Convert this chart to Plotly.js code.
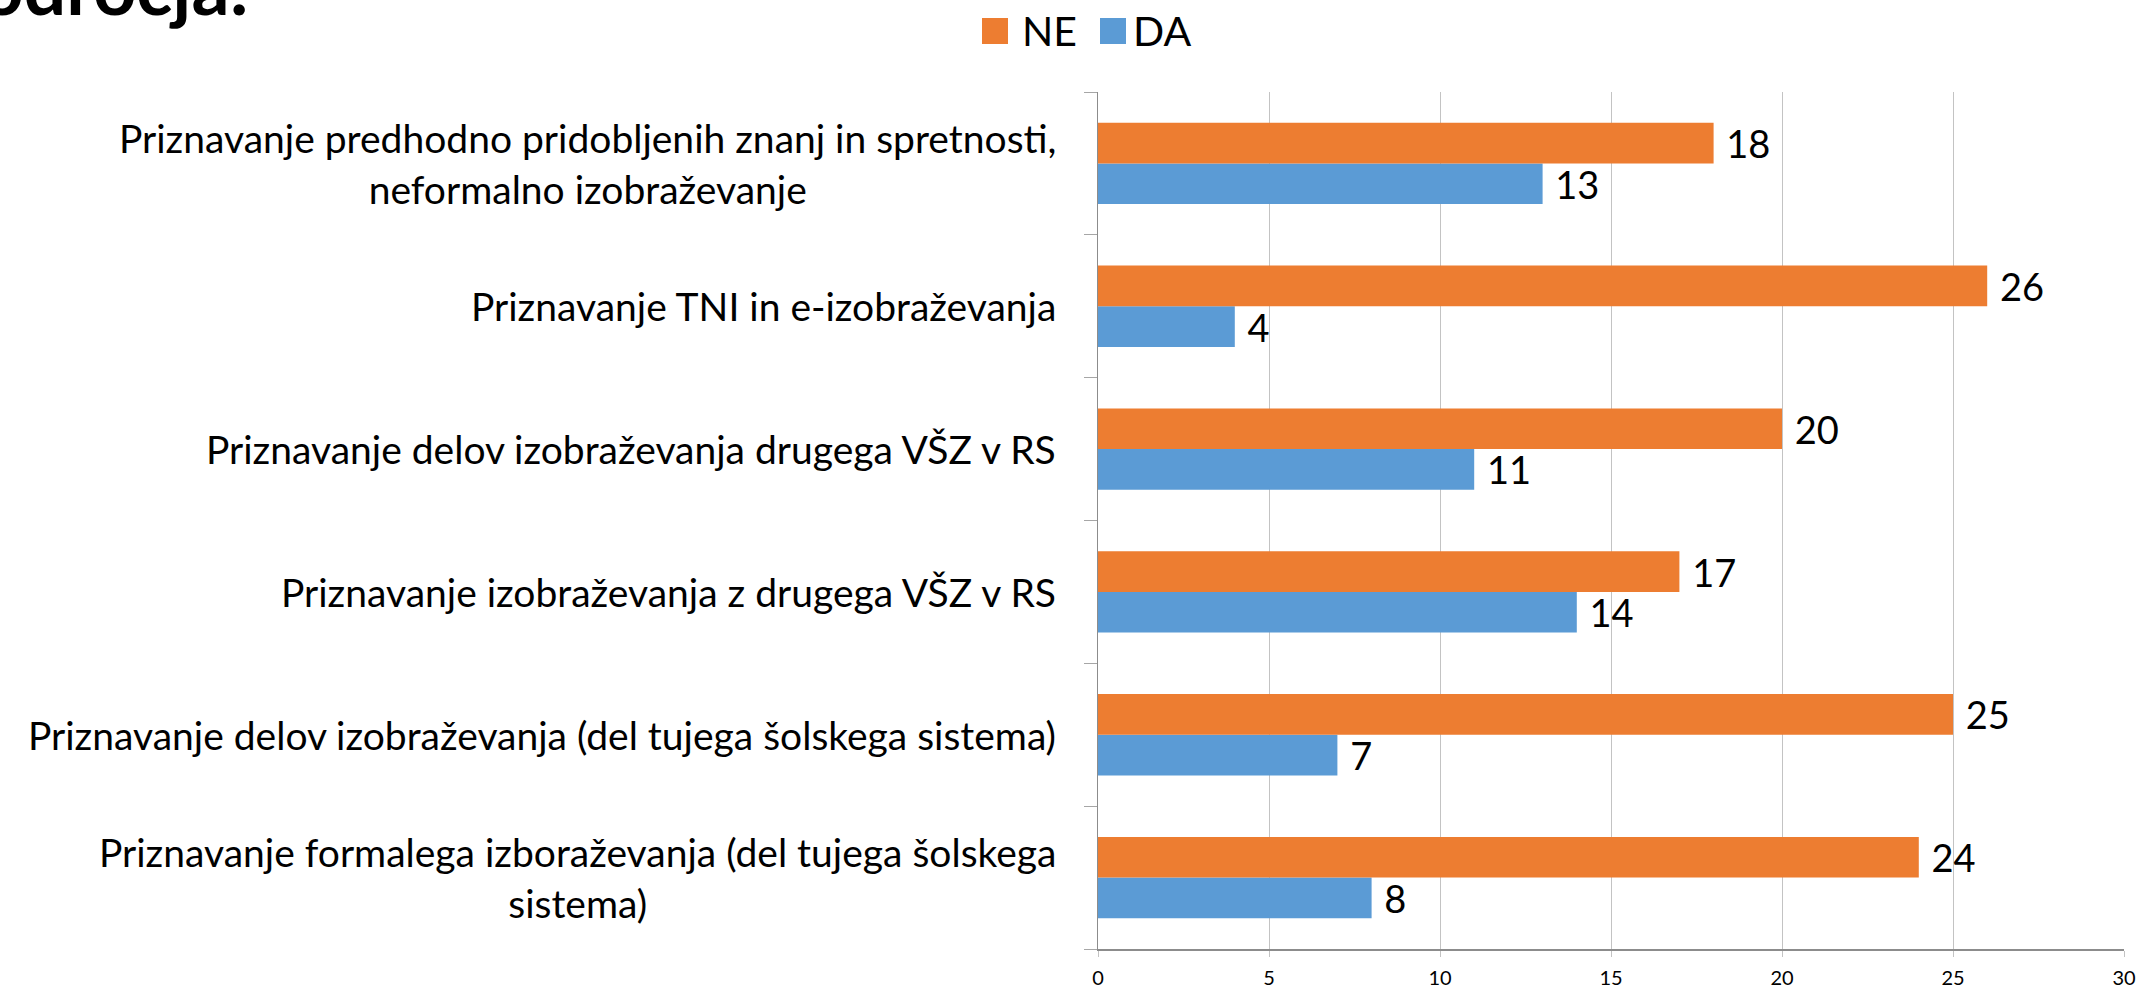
<!DOCTYPE html>
<html>
<head>
<meta charset="utf-8">
<script src="https://cdn.plot.ly/plotly-3.0.1.min.js"></script>
<style>html,body{margin:0;padding:0;background:#fff;}#chart{width:2140px;height:991px;}</style>
</head>
<body>
<div id="chart"></div>
<script>
// Categories, bottom to top (as drawn on the y axis)
const categories = [
  "Priznavanje formalega izboraževanja (del tujega šolskega<br>sistema)",
  "Priznavanje delov izobraževanja (del tujega šolskega sistema)",
  "Priznavanje izobraževanja z drugega VŠZ v RS",
  "Priznavanje delov izobraževanja drugega VŠZ v RS",
  "Priznavanje TNI in e-izobraževanja",
  "Priznavanje predhodno pridobljenih znanj in spretnosti,<br>neformalno izobraževanje"
];
const seriesNames = ["NE", "DA"];
const valuesNE = [24, 25, 17, 20, 26, 18];
const valuesDA = [8, 7, 14, 11, 4, 13];
const xTicks = [0, 5, 10, 15, 20, 25, 30];
const titleFragment = "področja:";

const FONT = "Lato, 'Open Sans', sans-serif";
const colNE = "#ED7D31";
const colDA = "#5B9BD5";

// plot-area geometry in pixels -> paper helper
const L = 1098, R = 2124, T = 92, B = 949;
const px = v => (v - L) / (R - L);
const py = v => (B - v) / (B - T);

const traces = [
  {
    type: "bar", orientation: "h", name: seriesNames[1],
    y: categories, x: valuesDA,
    marker: {color: colDA},
    text: valuesDA, texttemplate: "\u00a0%{x}", textposition: "outside",
    textfont: {family: FONT, size: 38, color: "#000"},
    constraintext: "none", cliponaxis: false, showlegend: false, hoverinfo: "x+y"
  },
  {
    type: "bar", orientation: "h", name: seriesNames[0],
    y: categories, x: valuesNE,
    marker: {color: colNE},
    text: valuesNE, texttemplate: "\u00a0%{x}", textposition: "outside",
    textfont: {family: FONT, size: 38, color: "#000"},
    constraintext: "none", cliponaxis: false, showlegend: false, hoverinfo: "x+y"
  }
];

const annotations = categories.map(c => ({
  xref: "paper", yref: "y", x: px(1058), y: c, xanchor: "right", yanchor: "middle",
  text: c, align: "center", showarrow: false,
  font: {family: FONT, size: 39, color: "#000"}
}));
// legend labels
annotations.push({xref: "paper", yref: "paper", x: px(1020), y: py(31), xanchor: "left", yanchor: "middle",
  text: seriesNames[0], showarrow: false, font: {family: FONT, size: 41, color: "#000"}});
annotations.push({xref: "paper", yref: "paper", x: px(1131), y: py(31), xanchor: "left", yanchor: "middle",
  text: seriesNames[1], showarrow: false, font: {family: FONT, size: 41, color: "#000"}});
// cut-off slide title fragment
annotations.push({xref: "paper", yref: "paper", x: px(251), y: py(33), xanchor: "right", yanchor: "bottom",
  text: "<b>" + titleFragment + "</b>", showarrow: false, font: {family: FONT, size: 75, color: "#000"}});

const shapes = [
  {type: "rect", xref: "paper", yref: "paper", x0: px(982), x1: px(1008), y0: py(44), y1: py(18),
   fillcolor: colNE, line: {width: 0}},
  {type: "rect", xref: "paper", yref: "paper", x0: px(1100), x1: px(1126), y0: py(44), y1: py(18),
   fillcolor: colDA, line: {width: 0}}
];

const layout = {
  width: 2140, height: 991, autosize: false,
  margin: {l: L, r: 2140 - R, t: T, b: 991 - B, pad: 0},
  paper_bgcolor: "#fff", plot_bgcolor: "#fff",
  barmode: "group", bargap: 0.43, bargroupgap: 0,
  showlegend: false,
  font: {family: FONT, color: "#000"},
  xaxis: {
    range: [0, 30], tickvals: xTicks, ticktext: xTicks.map(String),
    showgrid: true, gridcolor: "#c3c3c3", gridwidth: 1,
    showline: true, linecolor: "#8c8c8c", linewidth: 1.5,
    ticks: "outside", ticklen: 6, tickcolor: "#c3c3c3",
    tickfont: {family: FONT, size: 20, color: "#000"},
    ticklabelstandoff: 4,
    zeroline: false, fixedrange: true
  },
  yaxis: {
    type: "category", categoryorder: "array", categoryarray: categories,
    showticklabels: false, showgrid: false,
    showline: true, linecolor: "#8c8c8c", linewidth: 1.5,
    ticks: "outside", tickson: "boundaries", ticklen: 13, tickcolor: "#a6a6a6",
    zeroline: false, fixedrange: true
  },
  annotations: annotations,
  shapes: shapes
};

Plotly.newPlot("chart", traces, layout, {displayModeBar: false, staticPlot: true});
</script>
</body>
</html>
